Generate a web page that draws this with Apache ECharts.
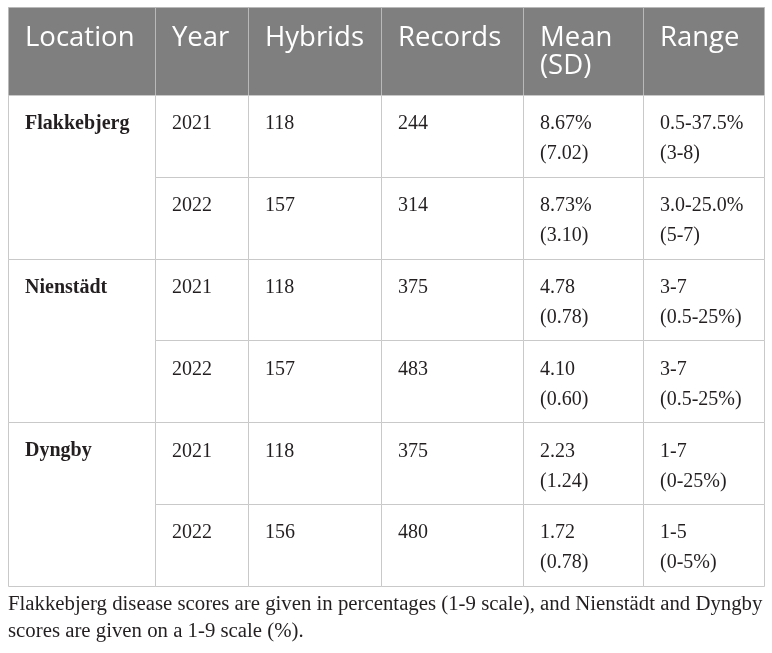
<!DOCTYPE html>
<html lang="en">
<head>
  <meta charset="UTF-8">
  <title>Disease scores table</title>
  <style>
    html, body { margin: 0; padding: 0; background: #fff; }
    #main { width: 772px; height: 653px; }
  </style>
</head>
<body>
  <div id="main"></div>
</body>
<script src="https://cdn.jsdelivr.net/npm/echarts@6/dist/echarts.min.js"></script>
<script>
  // table content
  const headers = ['Location', 'Year', 'Hybrids', 'Records', 'Mean\n(SD)', 'Range'];
  const locations = ['Flakkebjerg', 'Nienstädt', 'Dyngby'];
  const years = [2021, 2022, 2021, 2022, 2021, 2022];
  const hybrids = [118, 157, 118, 157, 118, 156];
  const records = [244, 314, 375, 483, 375, 480];
  const means = ['8.67%', '8.73%', '4.78', '4.10', '2.23', '1.72'];
  const sds = ['7.02', '3.10', '0.78', '0.60', '1.24', '0.78'];
  const ranges = ['0.5-37.5%', '3.0-25.0%', '3-7', '3-7', '1-7', '1-5'];
  const rangeNotes = ['3-8', '5-7', '0.5-25%', '0.5-25%', '0-25%', '0-5%'];
  const footnote = 'Flakkebjerg disease scores are given in percentages (1-9 scale), and Nienstädt and Dyngby\nscores are given on a 1-9 scale (%).';

  // layout (pixels)
  const colEdges = [8, 155, 248, 381, 523, 643, 764];
  const headTop = 7, headBottom = 95, rowH = 81.83;
  const pad = 17;

  const myChart = echarts.init(document.getElementById('main'));

  // cells: [col0, col1, row0, row1, text, kind]  row -1 = header
  let cells = [];
  headers.forEach(function (h, i) {
    cells.push([i, i + 1, -1, 0, h, 'head']);
  });
  locations.forEach(function (loc, g) {
    cells.push([0, 1, g * 2, g * 2 + 2, loc, 'loc']);
  });
  years.forEach(function (y, r) {
    cells.push([1, 2, r, r + 1, String(y), 'body']);
    cells.push([2, 3, r, r + 1, String(hybrids[r]), 'body']);
    cells.push([3, 4, r, r + 1, String(records[r]), 'body']);
    cells.push([4, 5, r, r + 1, means[r] + '\n(' + sds[r] + ')', 'body']);
    cells.push([5, 6, r, r + 1, ranges[r] + '\n(' + rangeNotes[r] + ')', 'body']);
  });

  function rowY(r) {
    return r < 0 ? headTop : headBottom + r * rowH;
  }

  function renderCell(params, api) {
    const c0 = api.value(0), c1 = api.value(1), r0 = api.value(2), r1 = api.value(3);
    const text = cells[params.dataIndex][4];
    const kind = cells[params.dataIndex][5];
    const p0 = api.coord([colEdges[c0], rowY(r0)]);
    const p1 = api.coord([colEdges[c1], rowY(r1)]);
    const x = Math.round(p0[0]) + 0.5, y = Math.round(p0[1]) + 0.5;
    const w = Math.round(p1[0]) - Math.round(p0[0]);
    const h = Math.round(p1[1]) - Math.round(p0[1]);
    const isHead = kind === 'head';
    return {
      type: 'group',
      children: [
        {
          type: 'rect',
          shape: { x: x, y: y, width: w, height: h },
          style: {
            fill: isHead ? '#7f7f7f' : '#fff',
            stroke: isHead ? '#b9b9b9' : '#c9c9c9',
            lineWidth: 1
          }
        },
        {
          type: 'text',
          style: {
            x: p0[0] + pad,
            y: p0[1] + (isHead ? 17 : 14),
            text: text,
            fill: isHead ? '#fff' : '#231f20',
            font: isHead
              ? '27.5px "Open Sans", "Noto Sans", sans-serif'
              : (kind === 'loc' ? 'bold ' : '') + '20px "Liberation Serif", "DejaVu Serif", serif',
            lineHeight: isHead ? 28 : 30,
            verticalAlign: 'top',
            align: 'left'
          }
        }
      ]
    };
  }

  myChart.setOption({
    animation: false,
    title: {
      text: footnote,
      left: 8,
      top: 591,
      padding: 0,
      textStyle: {
        fontFamily: '"Liberation Serif", "DejaVu Serif", serif',
        fontWeight: 'normal',
        fontSize: 20.8,
        lineHeight: 27,
        color: '#231f20'
      }
    },
    grid: { left: 0, right: 0, top: 0, bottom: 0 },
    xAxis: { type: 'value', min: 0, max: 772, show: false },
    yAxis: { type: 'value', min: 0, max: 653, inverse: true, show: false },
    series: [{
      type: 'custom',
      renderItem: renderCell,
      encode: { x: [0, 1], y: [2, 3] },
      data: cells.map(function (c) { return [c[0], c[1], c[2], c[3]]; }),
      silent: true
    }]
  });
</script>
</html>
